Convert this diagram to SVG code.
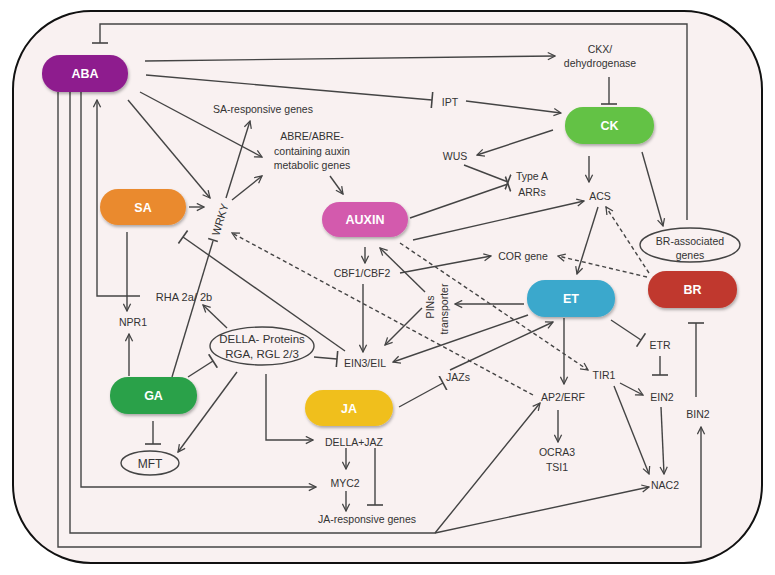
<svg xmlns="http://www.w3.org/2000/svg" width="775" height="575" viewBox="0 0 775 575">
<defs>
<marker id="arr" viewBox="0 0 10 10" refX="9" refY="5" markerWidth="9" markerHeight="9" markerUnits="userSpaceOnUse" orient="auto"><path d="M1,1 L9,5 L1,9" fill="none" stroke="#444" stroke-width="1.4"/></marker>
<marker id="tee" viewBox="0 0 4 16" refX="2" refY="8" markerWidth="4" markerHeight="16" markerUnits="userSpaceOnUse" orient="auto"><path d="M2,0 L2,16" stroke="#444" stroke-width="1.6"/></marker>
<filter id="sh" x="-10%" y="-20%" width="125%" height="150%"><feDropShadow dx="1" dy="2" stdDeviation="1.5" flood-color="#000" flood-opacity="0.3"/></filter>
</defs>
<style>
.c{fill:none;stroke:#444;stroke-width:1.4}
.a{marker-end:url(#arr)}
.t{marker-end:url(#tee)}
.d{stroke-dasharray:4,3}
.n{filter:url(#sh)}
.nl{font-family:"Liberation Sans",Arial,sans-serif;font-size:12.5px;font-weight:bold;fill:#fff;text-anchor:middle}
.l{font-family:"Liberation Sans",Arial,sans-serif;font-size:10.5px;fill:#333;text-anchor:middle}
.e{fill:none;stroke:#444;stroke-width:1.4}
</style>
<rect x="13" y="11" width="749" height="552" rx="78" ry="78" fill="#f9f1f1" stroke="#111" stroke-width="2"/>
<g id="connectors">
<path class="c a" d="M145,61 L555,56"/>
<path class="c t" d="M609,77 L609,104"/>
<path class="c t" d="M146,75 L432,100"/>
<path class="c a" d="M466,101 L561,113"/>
<path class="c a" d="M553,130 L477,155"/>
<path class="c t" d="M464,165 L508,182"/>
<path class="c t" d="M410,218 L508,184"/>
<path class="c a" d="M589,156 L589,182"/>
<path class="c a" d="M413,240 L584,201"/>
<path class="c a" d="M642,152 L663,226"/>
<path class="c t" d="M687,220 L687,24 L100,24 L100,43"/>
<path class="c a d" d="M649,273 L606,207"/>
<path class="c a d" d="M647,277 L558,256"/>
<path class="c a" d="M598,207 L577,274"/>
<path class="c a" d="M400,273 L491,256"/>
<path class="c a" d="M524,304 L455,304"/>
<path class="c a" d="M425,292 L380,248"/>
<path class="c a" d="M422,308 L385,345"/>
<path class="c a" d="M365,247 L365,263"/>
<path class="c a" d="M363,284 L363,352"/>
<path class="c a d" d="M400,243 L588,370"/>
<path class="c a d" d="M533,395 L232,233"/>
<path class="c a" d="M528,315 L393,362"/>
<path class="c a" d="M450,370 L553,322"/>
<path class="c t" d="M399,407 L443,383"/>
<path class="c a" d="M564,318 L564,384"/>
<path class="c t" d="M611,320 L641,340"/>
<path class="c t" d="M660,356 L660,375"/>
<path class="c a" d="M620,383 L643,395"/>
<path class="c a" d="M614,386 L649,474"/>
<path class="c a" d="M661,407 L664,474"/>
<path class="c a" d="M558,410 L558,442"/>
<path class="c t" d="M696,397 L696,323"/>
<path class="c a" d="M58,92 L58,547 L701,547 L701,427"/>
<path class="c a" d="M70,92 L70,533 L435,533 L540,403"/>
<path class="c a" d="M435,533 L649,487"/>
<path class="c a" d="M81,92 L81,487 L316,487"/>
<path class="c a" d="M140,296 L97,296 L97,100"/>
<path class="c a" d="M128,100 L210,198"/>
<path class="c a" d="M140,92 L262,157"/>
<path class="c a" d="M189,207 L204,207"/>
<path class="c" d="M172,377 L213,241"/>
<path class="c a" d="M226,198 L250,121"/>
<path class="c" d="M208.2,238.5 L217.8,241.5"/>
<path class="c a" d="M232,200 L262,176"/>
<path class="c a" d="M330,176 L343,194"/>
<path class="c a" d="M127,232 L127,311"/>
<path class="c a" d="M129,376 L129,334"/>
<path class="c t" d="M153,421 L153,444"/>
<path class="c t" d="M188,377 L213,361"/>
<path class="c a" d="M227,328 L203,305"/>
<path class="c t" d="M314,357 L337,359"/>
<path class="c t" d="M345,351 L183,237"/>
<path class="c a" d="M237,372 L178,452"/>
<path class="c a" d="M266,374 L266,440 L313,440"/>
<path class="c a" d="M346,448 L346,469"/>
<path class="c t" d="M375,448 L375,505"/>
<path class="c a" d="M346,491 L346,511"/>
</g>
<g id="ABA"><rect class="n" x="42" y="55" width="86" height="37" rx="18" fill="#8e1f8e"/><text class="nl" x="85" y="78">ABA</text></g>
<g id="SA"><rect class="n" x="100" y="189" width="86" height="36" rx="18" fill="#ea8a2e"/><text class="nl" x="143" y="211.5">SA</text></g>
<g id="AUXIN"><rect class="n" x="322" y="202" width="86" height="35" rx="17.5" fill="#d35aad"/><text class="nl" x="365" y="224">AUXIN</text></g>
<g id="CK"><rect class="n" x="565" y="107" width="89" height="37" rx="18" fill="#63c244"/><text class="nl" x="609.5" y="130">CK</text></g>
<g id="ET"><rect class="n" x="527" y="280" width="88" height="37" rx="18" fill="#3ba8cc"/><text class="nl" x="571" y="303">ET</text></g>
<g id="BR"><rect class="n" x="648" y="271" width="89" height="37" rx="18" fill="#c0392f"/><text class="nl" x="692.5" y="294">BR</text></g>
<g id="GA"><rect class="n" x="110" y="377" width="87" height="37" rx="18" fill="#2aa14a"/><text class="nl" x="153.5" y="400">GA</text></g>
<g id="JA"><rect class="n" x="305" y="390" width="88" height="36" rx="18" fill="#f0bf1f"/><text class="nl" x="349" y="412.5">JA</text></g>
<g id="CKX"><text class="l" x="600" y="53">CKX/</text><text class="l" x="600" y="67">dehydrogenase</text></g>
<g id="IPT"><text class="l" x="450" y="106">IPT</text></g>
<g id="WUS"><text class="l" x="455" y="160">WUS</text></g>
<g id="TypeA"><text class="l" x="532" y="180">Type A</text><text class="l" x="532" y="196">ARRs</text></g>
<g id="ACS"><text class="l" x="600" y="200">ACS</text></g>
<g id="COR"><text class="l" x="523" y="260">COR gene</text></g>
<g id="BRassoc"><ellipse class="e" cx="690" cy="245" rx="50" ry="17"/><text class="l" x="690" y="245">BR-associated</text><text class="l" x="690" y="259">genes</text></g>
<g id="CBF"><text class="l" x="362" y="277">CBF1/CBF2</text></g>
<g id="EIN3"><text class="l" x="365" y="367">EIN3/EIL</text></g>
<g id="PINs"><text class="l" transform="translate(434,307) rotate(-90)" y="0">PINs</text><text class="l" transform="translate(448,309) rotate(-90)" y="0">transporter</text></g>
<g id="TIR1"><text class="l" x="604" y="379">TIR1</text></g>
<g id="ETR"><text class="l" x="660" y="349">ETR</text></g>
<g id="EIN2"><text class="l" x="662" y="401">EIN2</text></g>
<g id="AP2"><text class="l" x="563" y="401">AP2/ERF</text></g>
<g id="OCRA3"><text class="l" x="557" y="456">OCRA3</text><text class="l" x="557" y="471">TSI1</text></g>
<g id="NAC2"><text class="l" x="665" y="489">NAC2</text></g>
<g id="BIN2"><text class="l" x="698" y="418">BIN2</text></g>
<g id="JAZs"><text class="l" x="458" y="381">JAZs</text></g>
<g id="DELLAJAZ"><text class="l" x="354" y="446">DELLA+JAZ</text></g>
<g id="MYC2"><text class="l" x="345" y="487">MYC2</text></g>
<g id="JAresp"><text class="l" x="367" y="523">JA-responsive genes</text></g>
<g id="MFT"><ellipse class="e" cx="150" cy="463" rx="29" ry="12"/><text class="l" x="150" y="467.5" style="font-size:12px">MFT</text></g>
<g id="DELLA"><ellipse class="e" cx="262" cy="346" rx="52" ry="19"/><text class="l" x="262" y="343" style="font-size:11.5px">DELLA- Proteins</text><text class="l" x="262" y="358" style="font-size:11.5px">RGA, RGL 2/3</text></g>
<g id="NPR1"><text class="l" x="133" y="326">NPR1</text></g>
<g id="RHA"><text class="l" x="184" y="301" style="font-size:11px">RHA 2a/ 2b</text></g>
<g id="SAresp"><text class="l" x="263" y="113">SA-responsive genes</text></g>
<g id="ABRE"><text class="l" x="312" y="140">ABRE/ABRE-</text><text class="l" x="312" y="155">containing auxin</text><text class="l" x="312" y="169">metabolic genes</text></g>
<g id="WRKY"><text class="l" transform="translate(220,219.5) rotate(-73)" y="4" style="font-size:11px">WRKY</text></g>
</svg>
